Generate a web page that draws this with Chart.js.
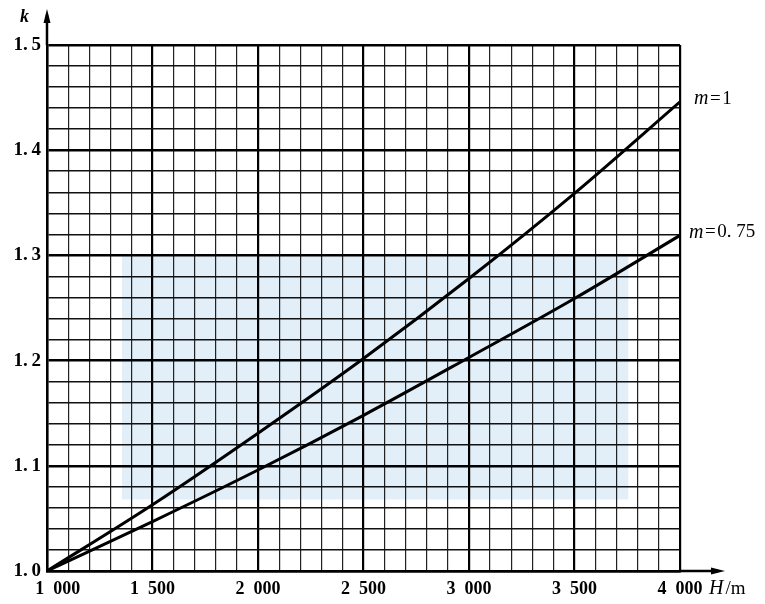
<!DOCTYPE html>
<html>
<head>
<meta charset="utf-8">
<script src="https://cdn.jsdelivr.net/npm/chart.js@4.4.1/dist/chart.umd.min.js"></script>
<style>
  html, body { margin: 0; padding: 0; background: #fff; }
  #wrap { width: 765px; height: 604px; }
</style>
</head>
<body>
<div id="wrap"><canvas id="chart"></canvas></div>
<script>
// altitude H (m) and correction factor k
const heights = [1000, 1500, 2000, 2500, 3000, 3500, 4000];
const kM1     = [1.000, 1.063, 1.131, 1.202, 1.278, 1.359, 1.446];
const kM075   = [1.000, 1.047, 1.096, 1.148, 1.203, 1.259, 1.319];
const seriesLabels = ["m=1", "m=0. 75"];

const xTicks = [1000, 1500, 2000, 2500, 3000, 3500, 4000];
const yTicks = [1.0, 1.1, 1.2, 1.3, 1.4, 1.5];

const toPoints = (ys) => heights.map((h, i) => ({ x: h, y: ys[i] }));
const isMajorX = v => Math.round(v) % 500 === 0;
const isMajorY = v => Math.round(v * 100) % 10 === 0;
const fmtX = v => {
    const s = Math.floor(v / 1000) + "\u2002" + String(v % 1000).padStart(3, "0");
    // first label sits a little right of its tick in the original
    return v === xTicks[0] ? "\u2002\u2002\u2009" + s : s;
};
const fmtY = v => v.toFixed(1).replace(".", ".\u2009");

// light blue watermark box behind the grid
const watermark = {
    id: "watermark",
    beforeDraw(chart) {
        const { ctx, scales: { x, y } } = chart;
        ctx.save();
        ctx.fillStyle = "#e2eef8";
        const x0 = x.getPixelForValue(1355), x1 = x.getPixelForValue(3755);
        const y0 = y.getPixelForValue(1.299), y1 = y.getPixelForValue(1.068);
        ctx.fillRect(x0, y0, x1 - x0, y1 - y0);
        ctx.restore();
    }
};

// axis arrows, axis titles, curve labels
const annotations = {
    id: "annotations",
    afterDraw(chart) {
        const { ctx, chartArea: a } = chart;
        ctx.save();
        ctx.strokeStyle = "#000";
        ctx.fillStyle = "#000";
        ctx.lineWidth = 2.5;
        // y axis arrow
        ctx.beginPath();
        ctx.moveTo(a.left, a.top);
        ctx.lineTo(a.left, a.top - 30);
        ctx.stroke();
        ctx.beginPath();
        ctx.moveTo(a.left, a.top - 36);
        ctx.lineTo(a.left - 3.5, a.top - 22);
        ctx.lineTo(a.left + 3.5, a.top - 22);
        ctx.closePath();
        ctx.fill();
        // x axis arrow
        ctx.beginPath();
        ctx.moveTo(a.right, a.bottom);
        ctx.lineTo(a.right + 38, a.bottom);
        ctx.stroke();
        ctx.beginPath();
        ctx.moveTo(a.right + 45, a.bottom);
        ctx.lineTo(a.right + 31, a.bottom - 3.5);
        ctx.lineTo(a.right + 31, a.bottom + 3.5);
        ctx.closePath();
        ctx.fill();

        ctx.textBaseline = "middle";
        ctx.textAlign = "left";
        ctx.font = "italic bold 18px 'Liberation Serif'";
        ctx.fillText("k", 20, 17);

        ctx.font = "italic 20px 'Liberation Serif'";
        ctx.fillText("H", 709, 589);
        let w = ctx.measureText("H").width;
        ctx.font = "19px 'Liberation Serif'";
        ctx.fillText("/m", 709 + w + 2, 589);

        chart.data.datasets.forEach((ds, i) => {
            const pts = chart.getDatasetMeta(i).data;
            const last = pts[pts.length - 1];
            const px = last.x + (i === 0 ? 14 : 9), py = last.y - 3;
            const label = seriesLabels[i];
            ctx.font = "italic 20px 'Liberation Serif'";
            ctx.fillText("m", px, py);
            const mw = ctx.measureText("m").width;
            ctx.font = "19px 'Liberation Serif'";
            ctx.fillText(label.slice(1).replace("=", "\u200a=\u200a"), px + mw, py);
        });
        ctx.restore();
    }
};

const lineStyle = {
    borderColor: "#000",
    borderWidth: 3,
    pointRadius: 0,
    fill: false,
    cubicInterpolationMode: "monotone"
};

new Chart(document.getElementById("chart"), {
    type: "line",
    data: {
        datasets: [
            { label: seriesLabels[0], data: toPoints(kM1), ...lineStyle },
            { label: seriesLabels[1], data: toPoints(kM075), ...lineStyle }
        ]
    },
    options: {
        responsive: true,
        maintainAspectRatio: false,
        animation: false,
        layout: { padding: { left: 0, right: 85, top: 45, bottom: 0 } },
        plugins: { legend: { display: false }, tooltip: { enabled: false } },
        scales: {
            x: {
                type: "linear",
                min: xTicks[0],
                max: xTicks[xTicks.length - 1],
                afterFit: s => { s.height = 33; },
                border: { display: true, color: "#000", width: 2.5 },
                grid: {
                    drawTicks: false,
                    color: ctx => isMajorX(ctx.tick.value) ? "#000" : "#222",
                    lineWidth: ctx => isMajorX(ctx.tick.value) ? 2.2 : 1.2
                },
                ticks: {
                    stepSize: 100,
                    autoSkip: false,
                    maxRotation: 0,
                    padding: 8,
                    color: "#000",
                    font: { family: "'Liberation Serif'", size: 18, weight: "bold" },
                    callback: v => xTicks.includes(v) ? fmtX(v) : ""
                }
            },
            y: {
                type: "linear",
                min: yTicks[0],
                max: yTicks[yTicks.length - 1],
                afterFit: s => { s.width = 47; },
                border: { display: true, color: "#000", width: 2.5 },
                grid: {
                    drawTicks: false,
                    color: ctx => isMajorY(ctx.tick.value) ? "#000" : "#111",
                    lineWidth: ctx => isMajorY(ctx.tick.value) ? 2.4 : 1.5
                },
                ticks: {
                    stepSize: 0.02,
                    autoSkip: false,
                    padding: 6,
                    color: "#000",
                    font: { family: "'Liberation Serif'", size: 19, weight: "bold" },
                    callback: v => isMajorY(v) ? fmtY(v) : ""
                }
            }
        }
    },
    plugins: [watermark, annotations]
});
</script>
</body>
</html>
